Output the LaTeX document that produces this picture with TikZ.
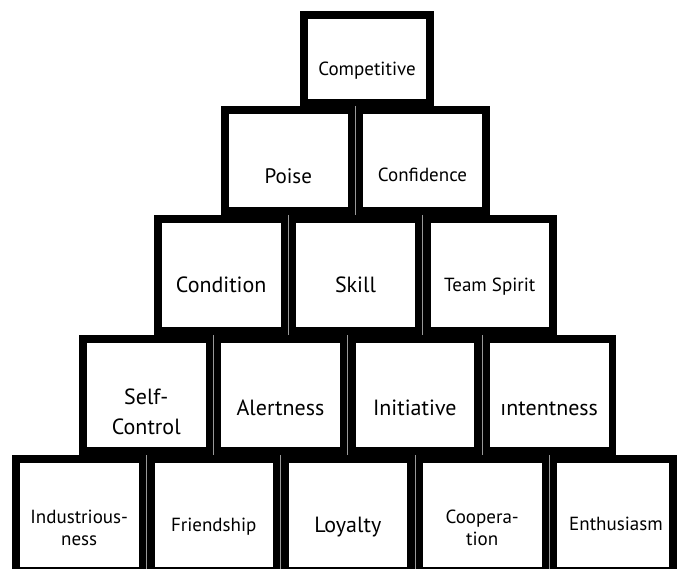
\documentclass[tikz,border=0pt]{standalone}
\usepackage{fontspec}
\setmainfont{PT Sans}
% one block of the pyramid: name, left, top, right, bottom (outer edges)
\newcommand\pblock[5]{%
  \node[block, minimum width={(#4-#2-7.8)*1pt}, minimum height={(#5-#3-7.8)*1pt}]
    (#1) at ({(#2+#4)/2},{(#3+#5)/2}) {};}
% hairline where two neighbouring blocks of a row meet
\newcommand\pseam[1]{%
  \draw[seam] ([xshift=3.9pt,yshift=3.9pt]#1.north east) --
              ([xshift=3.9pt,yshift=-3.9pt]#1.south east);}
\begin{document}
\begin{tikzpicture}[x=1pt,y=-1pt,
  block/.style={draw=black, fill=white, line width=7.8pt, rectangle,
    inner sep=0pt, outer sep=0pt},
  seam/.style={draw=black!40, line width=0.7pt},
  lbl/.style={font=\fontsize{#1}{#1}\selectfont, inner sep=0pt, anchor=base},
  lbltwo/.style 2 args={font=\fontsize{#1}{#2}\selectfont, inner sep=0pt,
    anchor=base, align=center}]
\useasboundingbox (0,0) rectangle (677,569);
\clip (0,0) rectangle (677,569);

% top block
\pblock{competitive}{300}{11}{434}{106.5}
% second row
\pblock{poise}{221}{106}{355.5}{215}
\pblock{confidence}{355.5}{106}{489.5}{215}
% third row
\pblock{condition}{154}{215}{288.3}{335}
\pblock{skill}{288.3}{215}{422.7}{335}
\pblock{teamspirit}{422.7}{215}{557}{335}
% fourth row
\pblock{selfcontrol}{79.3}{335}{213.3}{455}
\pblock{alertness}{213.3}{335}{347.7}{455}
\pblock{initiative}{347.7}{335}{482}{455}
\pblock{intentness}{482}{335}{616.3}{455}
% base row
\pblock{industriousness}{11.7}{455}{146.7}{575}
\pblock{friendship}{146.7}{455}{280.7}{575}
\pblock{loyalty}{280.7}{455}{415}{575}
\pblock{cooperation}{415}{455}{549.3}{575}
\pblock{enthusiasm}{549.3}{455}{676.5}{575}

% joints between neighbouring blocks
\foreach \b in {poise, condition, skill, selfcontrol, alertness, initiative,
                industriousness, friendship, loyalty, cooperation}
  {\pseam{\b}}

% labels
\node[lbl=19] (t-competitive) at (367,76) {Competitive};
\node[lbl=21] (t-poise) at (288.3,184) {Poise};
\node[lbl=19] (t-confidence) at (422.5,182) {Confidence};
\node[lbl=22] (t-condition) at (221.2,292.7) {Condition};
\node[lbl=22] (t-skill) at (355.5,292.5) {Skill};
\node[lbl=19] (t-teamspirit) at (489.8,291) {Team Spirit};
\node[lbltwo={22}{30}] (t-selfcontrol) at (146.3,434) {Self-\\Control};
\node[lbl=22] (t-alertness) at (280.5,415) {Alertness};
\node[lbl=22] (t-initiative) at (414.8,415) {Initiative};
\node[lbl=22] (t-intentness) at (549.2,415) {ıntentness};
\node[lbltwo={19}{21.7}] (t-industriousness) at (79.2,545) {Industrious-\\ness};
\node[lbl=19] (t-friendship) at (213.7,531) {Friendship};
\node[lbl=22] (t-loyalty) at (347.8,532.7) {Loyalty};
\node[lbltwo={19}{21.7}] (t-cooperation) at (482.2,545) {Coopera-\\tion};
\node[lbl=19] (t-enthusiasm) at (616,530) {Enthusiasm};
\end{tikzpicture}
\end{document}
